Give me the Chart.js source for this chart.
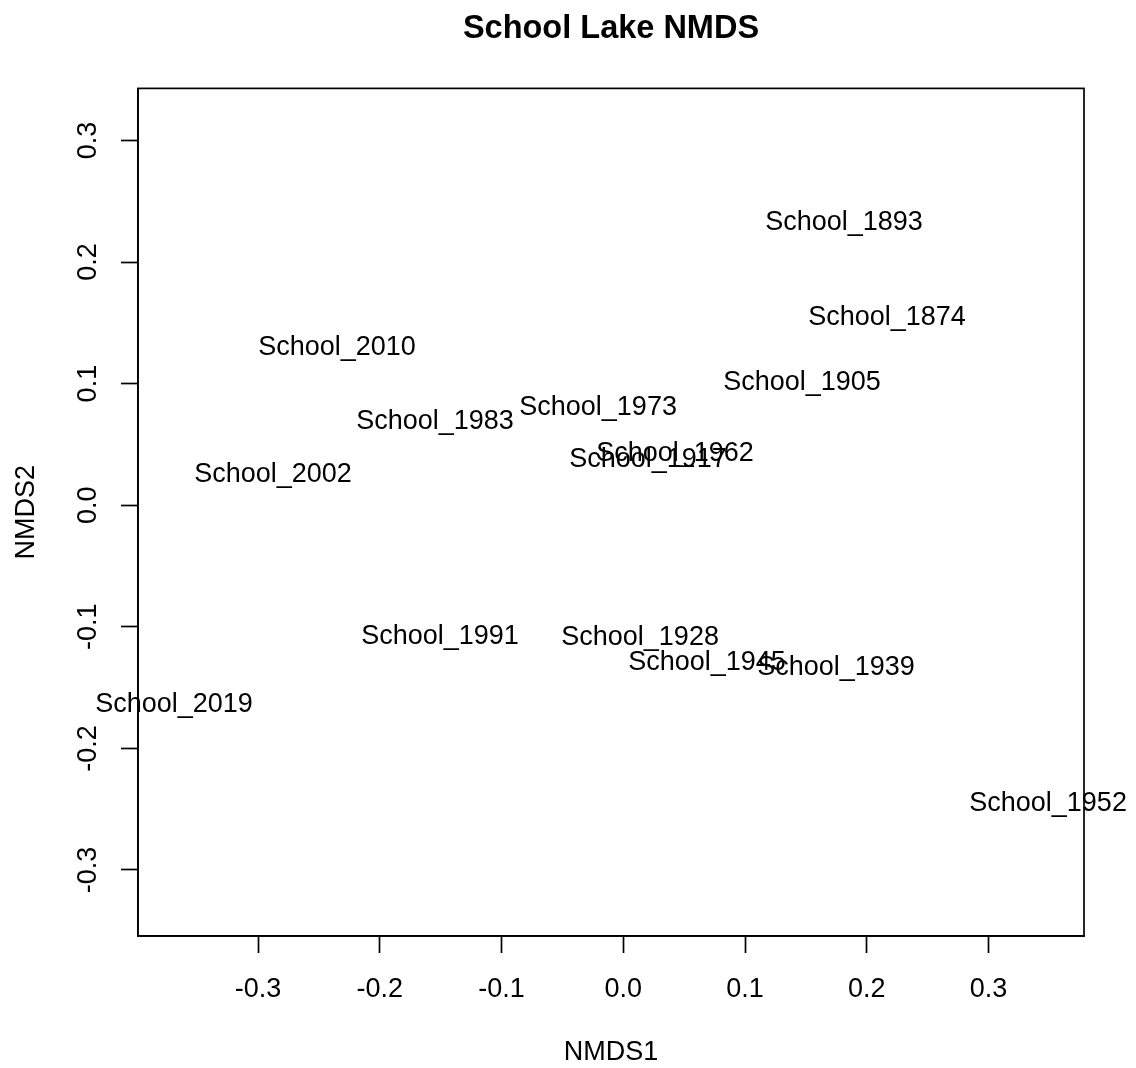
<!DOCTYPE html>
<html>
<head>
<meta charset="utf-8">
<script src="https://cdn.jsdelivr.net/npm/chart.js@4/dist/chart.umd.min.js"></script>
<style>
html,body{margin:0;padding:0;background:#ffffff;}
#wrap{width:1136px;height:1068px;}
</style>
</head>
<body>
<div id="wrap"><canvas id="c" width="1136" height="1068"></canvas></div>
<script>
// ---- data (site scores) ----
const sampleNames = ["School_1893","School_1874","School_2010","School_1905","School_1973",
  "School_1983","School_1962","School_1917","School_2002","School_1991","School_1928",
  "School_1945","School_1939","School_2019","School_1952"];
const nmds1 = [0.1813, 0.2166, -0.2351, 0.1468, -0.0207, -0.1546, 0.0425, 0.0203,
  -0.2877, -0.1505, 0.0138, 0.0688, 0.1747, -0.3690, 0.3489];
const nmds2 = [0.2342, 0.1560, 0.1313, 0.1025, 0.0819, 0.0704, 0.0440, 0.0391,
  0.0267, -0.1058, -0.1066, -0.1272, -0.1313, -0.1617, -0.2432];

const xTickValues = [-0.3, -0.2, -0.1, 0.0, 0.1, 0.2, 0.3];
const xTickLabels = ["-0.3", "-0.2", "-0.1", "0.0", "0.1", "0.2", "0.3"];
const yTickValues = [-0.3, -0.2, -0.1, 0.0, 0.1, 0.2, 0.3];
const yTickLabels = ["-0.3", "-0.2", "-0.1", "0.0", "0.1", "0.2", "0.3"];
const xRange = [-0.3986, 0.3784];
const yRange = [-0.3543, 0.3428];

const chartTitle = "School Lake NMDS";
const xTitle = "NMDS1";
const yTitle = "NMDS2";

// ---- styling ----
const FONT = '"Liberation Sans", Arial, Helvetica, sans-serif';
const LW = 1.7;

const points = nmds1.map((x, i) => ({x: x, y: nmds2[i]}));

const labelPlugin = {
  id: 'siteLabels',
  afterDatasetsDraw(chart) {
    const ctx = chart.ctx;
    const meta = chart.getDatasetMeta(0);
    ctx.save();
    ctx.font = '27px ' + FONT;
    ctx.fillStyle = '#000000';
    ctx.textAlign = 'center';
    ctx.textBaseline = 'alphabetic';
    meta.data.forEach((pt, i) => {
      ctx.fillText(sampleNames[i], pt.x, pt.y + 9.7);
    });
    ctx.restore();
  }
};

const boxPlugin = {
  id: 'plotBox',
  afterDraw(chart) {
    const a = chart.chartArea;
    const ctx = chart.ctx;
    ctx.save();
    ctx.strokeStyle = '#000000';
    ctx.lineWidth = LW;
    ctx.strokeRect(a.left, a.top, a.right - a.left, a.bottom - a.top);
    ctx.restore();
  }
};

new Chart(document.getElementById('c'), {
  type: 'scatter',
  data: {
    datasets: [{
      label: 'sites',
      data: points,
      pointRadius: 0,
      pointHoverRadius: 0,
      borderWidth: 0,
      backgroundColor: 'rgba(0,0,0,0)'
    }]
  },
  options: {
    responsive: false,
    animation: false,
    devicePixelRatio: 1,
    layout: { padding: { top: 0, right: 52, bottom: 0, left: 0 } },
    plugins: {
      legend: { display: false },
      tooltip: { enabled: false },
      title: {
        display: true,
        text: chartTitle,
        fullSize: false,
        color: '#000000',
        font: { family: FONT, size: 32.5, weight: 'bold', lineHeight: 1.2 },
        padding: { top: 9.5, bottom: 39.9 }
      }
    },
    scales: {
      x: {
        type: 'linear',
        position: 'bottom',
        min: xRange[0],
        max: xRange[1],
        afterBuildTicks: (s) => { s.ticks = xTickValues.map(v => ({value: v})); },
        afterFit: (s) => { s.height = 132; },
        ticks: {
          autoSkip: false,
          maxRotation: 0,
          minRotation: 0,
          padding: 20,
          color: '#000000',
          font: { family: FONT, size: 27, lineHeight: 1.2 },
          callback: (v, i) => xTickLabels[i]
        },
        grid: {
          drawOnChartArea: false,
          drawTicks: true,
          tickLength: 17,
          tickColor: '#000000',
          tickWidth: LW
        },
        border: { display: true, color: '#000000', width: LW },
        title: {
          display: true,
          text: xTitle,
          color: '#000000',
          font: { family: FONT, size: 27, lineHeight: 1 },
          padding: { top: 0, bottom: 1.5 }
        }
      },
      y: {
        type: 'linear',
        position: 'left',
        min: yRange[0],
        max: yRange[1],
        afterBuildTicks: (s) => { s.ticks = yTickValues.map(v => ({value: v})); },
        afterFit: (s) => { s.width = 138; },
        ticks: {
          autoSkip: false,
          minRotation: 90,
          maxRotation: 90,
          crossAlign: 'center',
          padding: 9,
          color: '#000000',
          font: { family: FONT, size: 27, lineHeight: 1.2 },
          callback: (v, i) => yTickLabels[i]
        },
        grid: {
          drawOnChartArea: false,
          drawTicks: true,
          tickLength: 17,
          tickColor: '#000000',
          tickWidth: LW
        },
        border: { display: true, color: '#000000', width: LW },
        title: {
          display: true,
          text: yTitle,
          color: '#000000',
          font: { family: FONT, size: 27, lineHeight: 1 },
          padding: { top: 13.5, bottom: 0 }
        }
      }
    }
  },
  plugins: [labelPlugin, boxPlugin]
});
</script>
</body>
</html>
